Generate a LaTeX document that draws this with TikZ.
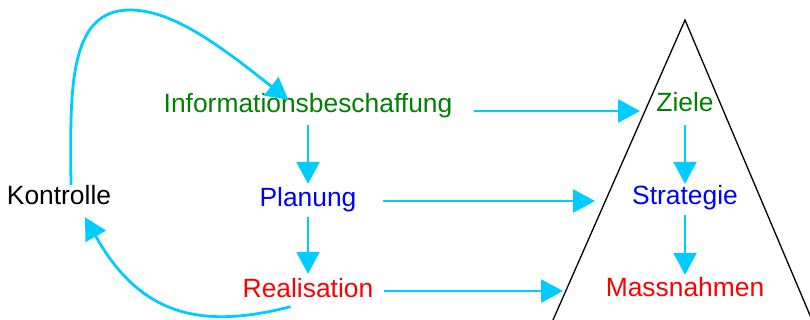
\documentclass[tikz,border=0pt]{standalone}
\usepackage{fontspec}
\setmainfont{Liberation Sans}
\usetikzlibrary{arrows.meta}
\definecolor{arrowcyan}{RGB}{0,204,255}
\definecolor{dgreen}{RGB}{0,128,0}
\begin{document}
\begin{tikzpicture}[x=1pt,y=-1pt,
  lbl/.style={font=\fontsize{26.4}{30}\selectfont, inner sep=4pt, text height=19pt, text depth=5.5pt, anchor=base},
  arr/.style={draw=arrowcyan, line width=2.8pt, -{Triangle[length=22pt,width=23pt]}}]
\useasboundingbox (0,0) rectangle (810,320);
\begin{scope}
  \clip (0,0) rectangle (810,320);
  \draw[line width=1.3pt] (553,320) -- (685,20) -- (812,320);
\end{scope}
% labels
\node[lbl] (kon) at (59,205) {Kontrolle};
\node[lbl,text=dgreen] (info) at (308,113) {Informationsbeschaffung};
\node[lbl,text=blue] (plan) at (308,207) {Planung};
\node[lbl,text=red] (real) at (308,297) {Realisation};
\node[lbl,text=dgreen] (ziele) at (685,112) {Ziele};
\node[lbl,text=blue] (strat) at (685,205) {Strategie};
\node[lbl,text=red] (mass) at (685,296) {Massnahmen};
% points on the pyramid edge
\coordinate (e1) at (645,111);
\coordinate (e2) at (605,201);
\coordinate (e3) at (565,291);
% vertical arrows
\draw[arr, shorten <=2pt] (info.south) -- (plan.north);
\draw[arr] (plan.south) -- (real.north);
\draw[arr, shorten <=3pt, shorten >=-2pt] (ziele.south) -- (strat.north);
\draw[arr, shorten >=-2pt] (strat.south) -- (mass.north);
% horizontal arrows
\draw[arr, shorten <=17pt, shorten >=5pt] (info.east |- e1) -- (e1);
\draw[arr, shorten <=22pt, shorten >=10pt] (plan.east |- e2) -- (e2);
\draw[arr, shorten <=6pt, shorten >=2pt] (real.east |- e3) -- (e3);
% feedback loop
\draw[arr] ([xshift=12pt,yshift=-3pt]kon.north) .. controls (70,90) and (68,10) .. (130,10)
  .. controls (175,10) and (225,50) .. ([xshift=129pt,yshift=-10pt]info.north west);
\draw[arr] ([xshift=52pt]real.south west) .. controls (200,330) and (140,315) .. ([xshift=26pt,yshift=-2.5pt]kon.south);
\end{tikzpicture}
\end{document}
